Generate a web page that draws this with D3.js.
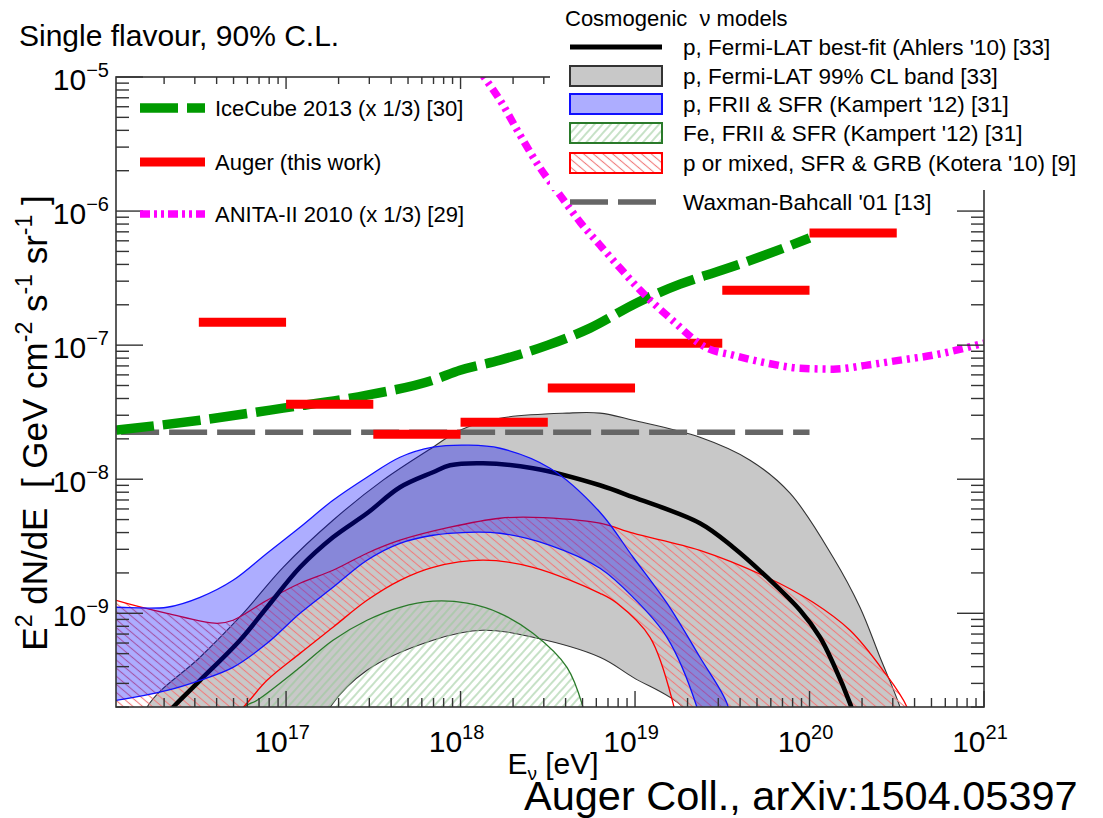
<!DOCTYPE html>
<html>
<head>
<meta charset="utf-8">
<script src="https://cdn.jsdelivr.net/npm/d3@7"></script>
<style>
body { margin: 0; background: #fff; }
text { font-family: "Liberation Sans", Arial, Helvetica, sans-serif; fill: #000; }
</style>
</head>
<body>
<svg width="1103" height="818"></svg>
<script>
// all curves: [log10(E/eV), log10(E^2 dN/dE / GeV cm^-2 s^-1 sr^-1)]

var xTickExp = [17, 18, 19, 20, 21];
var yTickExp = [-9, -8, -7, -6, -5];

// Auger 90% CL limits, half-decade bins
var augerBins = [[16.5, 17.0], [17.0, 17.5], [17.5, 18.0], [18.0, 18.5], [18.5, 19.0], [19.0, 19.5], [19.5, 20.0], [20.0, 20.5]];
var augerLimit = [-6.83, -7.44, -7.664, -7.575, -7.32, -6.985, -6.59, -6.164];

var icecube = [[16.026, -7.634], [16.507, -7.56], [16.983, -7.47], [17.464, -7.373], [17.842, -7.261], [17.997, -7.187],
  [18.226, -7.112], [18.5, -7.0], [18.742, -6.873], [19.006, -6.687], [19.258, -6.545], [19.5, -6.44], [19.745, -6.328], [20.0, -6.201]];

var anita = [[18.08, -4.9], [18.135, -5.0], [18.226, -5.172], [18.341, -5.433], [18.456, -5.679], [18.57, -5.881], [18.685, -6.082],
  [18.799, -6.254], [18.914, -6.425], [19.029, -6.59], [19.201, -6.799], [19.413, -7.022], [19.562, -7.075], [19.756, -7.134],
  [19.946, -7.172], [20.135, -7.179], [20.33, -7.149], [20.519, -7.112], [20.708, -7.075], [21.0, -6.985]];

var waxmanBahcall = [[16.026, -7.649], [20.0, -7.649]];

var fermiBest = [[16.3, -9.78], [16.352, -9.701], [16.507, -9.5], [16.736, -9.201], [16.891, -8.955], [17.08, -8.657], [17.269, -8.433],
  [17.464, -8.254], [17.653, -8.06], [17.842, -7.948], [17.94, -7.896], [18.129, -7.881], [18.415, -7.918], [18.799, -8.045],
  [18.989, -8.134], [19.372, -8.328], [19.562, -8.507], [19.756, -8.731], [19.946, -8.978], [20.06, -9.179], [20.135, -9.373],
  [20.232, -9.672], [20.26, -9.78]];

var fermiHi = [[16.1, -10.2], [16.203, -9.701], [16.507, -9.328], [16.754, -9.0], [16.983, -8.657], [17.269, -8.306], [17.556, -8.007],
  [17.842, -7.761], [17.997, -7.634], [18.226, -7.545], [18.61, -7.507], [18.799, -7.507], [18.989, -7.56], [19.372, -7.687],
  [19.659, -7.858], [19.888, -8.104], [20.135, -8.582], [20.289, -8.955], [20.404, -9.328], [20.519, -9.701], [20.58, -10.0]];
var fermiLo = [[17.15, -10.0], [17.252, -9.701], [17.464, -9.425], [17.842, -9.201], [18.129, -9.127], [18.415, -9.179],
  [18.799, -9.328], [18.989, -9.478], [19.275, -9.701], [19.4, -10.0]];

var kampertPHi = [[15.95, -8.955], [16.026, -8.955], [16.318, -8.955], [16.507, -8.881], [16.696, -8.754], [16.891, -8.552], [17.08, -8.358],
  [17.269, -8.157], [17.464, -7.985], [17.653, -7.836], [17.842, -7.761], [18.037, -7.746], [18.226, -7.769], [18.513, -7.918],
  [18.799, -8.246], [18.989, -8.582], [19.183, -8.925], [19.372, -9.328], [19.527, -9.672], [19.56, -9.9]];
var kampertPLo = [[15.95, -9.66], [16.026, -9.649], [16.318, -9.575], [16.507, -9.5], [16.696, -9.403], [16.891, -9.224], [17.08, -9.0],
  [17.269, -8.806], [17.464, -8.604], [17.653, -8.478], [17.842, -8.418], [18.037, -8.396], [18.226, -8.403], [18.513, -8.493],
  [18.799, -8.664], [18.989, -8.881], [19.183, -9.179], [19.355, -9.701], [19.39, -9.9]];

var kampertFeHi = [[16.68, -9.95], [16.759, -9.701], [16.834, -9.649], [17.08, -9.403], [17.269, -9.201], [17.464, -9.052], [17.653, -8.955],
  [17.842, -8.91], [18.037, -8.925], [18.226, -9.0], [18.415, -9.149], [18.61, -9.403], [18.702, -9.701], [18.74, -9.95]];
var kampertFeLo = [[16.68, -10.5], [18.74, -10.5]];

var koteraHi = [[15.95, -8.87], [16.026, -8.903], [16.318, -9.0], [16.605, -9.075], [16.696, -9.052], [16.891, -8.903], [17.08, -8.776],
  [17.269, -8.679], [17.464, -8.552], [17.653, -8.455], [17.94, -8.358], [18.226, -8.291], [18.415, -8.284], [18.799, -8.328],
  [18.989, -8.403], [19.372, -8.53], [19.756, -8.731], [20.02, -8.918], [20.232, -9.127], [20.421, -9.425], [20.559, -9.701], [20.62, -10.0]];
var koteraLo = [[15.95, -10.4], [16.5, -10.0], [16.754, -9.701], [16.891, -9.5], [17.08, -9.299], [17.269, -9.104], [17.464, -8.903],
  [17.653, -8.754], [17.842, -8.657], [18.129, -8.604], [18.415, -8.657], [18.799, -8.851], [18.897, -8.925], [19.086, -9.179],
  [19.218, -9.672], [19.25, -9.9]];

var svg = d3.select("svg");
var pl = 116, pr = 984, pt = 77, pb = 707;

var x = d3.scaleLog().domain([1.06e16, 1e21]).range([pl, pr]);
var y = d3.scaleLog().domain([2e-10, 1e-5]).range([pb, pt]);

function px(d) { return x(Math.pow(10, d[0])); }
function py(d) { return y(Math.pow(10, d[1])); }

var line = d3.line().x(px).y(py).curve(d3.curveCatmullRom.alpha(0.5));
var straight = d3.line().x(px).y(py);

function bandPath(hi, lo) {
  var a = line(hi), b = line(lo.slice().reverse());
  return a + "L" + b.slice(1) + "Z";
}

var defs = svg.append("defs");
defs.append("clipPath").attr("id", "plotclip")
  .append("rect").attr("x", pl).attr("y", pt).attr("width", pr - pl).attr("height", pb - pt);

function hatch(id, color, angle, gap) {
  var p = defs.append("pattern").attr("id", id)
    .attr("patternUnits", "userSpaceOnUse")
    .attr("width", gap).attr("height", gap)
    .attr("patternTransform", "rotate(" + angle + ")");
  p.append("line").attr("x1", gap / 2).attr("y1", 0).attr("x2", gap / 2).attr("y2", gap)
    .attr("stroke", color).attr("stroke-width", 1.1);
}
hatch("hatchRed", "#f07c7c", -50, 6.2);
hatch("hatchGreen", "#98c998", 42, 6);

var blueFill = "rgba(0,0,255,0.32)";

var g = svg.append("g").attr("clip-path", "url(#plotclip)");

// Fermi-LAT 99% band
g.append("path").attr("d", bandPath(fermiHi, fermiLo))
  .attr("fill", "#c8c8c8").attr("stroke", "#333").attr("stroke-width", 1.1);

// Fe, Kampert
g.append("path").attr("d", bandPath(kampertFeHi, kampertFeLo))
  .attr("fill", "url(#hatchGreen)").attr("stroke", "#2a7a2a").attr("stroke-width", 1.3);

// Kotera
g.append("path").attr("d", bandPath(koteraHi, koteraLo))
  .attr("fill", "url(#hatchRed)").attr("stroke", "#ff0000").attr("stroke-width", 1.3);

// Ahlers best fit
g.append("path").attr("d", line(fermiBest))
  .attr("fill", "none").attr("stroke", "#000").attr("stroke-width", 4.5);

// p, Kampert
g.append("path").attr("d", bandPath(kampertPHi, kampertPLo))
  .attr("fill", blueFill).attr("stroke", "#1010ff").attr("stroke-width", 1.3);

// Waxman-Bahcall
g.append("path").attr("d", straight(waxmanBahcall))
  .attr("fill", "none").attr("stroke", "#666").attr("stroke-width", 5.5)
  .attr("stroke-dasharray", "38,10").attr("stroke-dashoffset", -5);

// IceCube
g.append("path").attr("d", d3.line().x(px).y(py).curve(d3.curveMonotoneX)(icecube))
  .attr("fill", "none").attr("stroke", "#009a00").attr("stroke-width", 9.5)
  .attr("stroke-dasharray", "38,9");

// Auger
g.selectAll(".auger").data(augerLimit).enter().append("line")
  .attr("x1", function(d, i) { return x(Math.pow(10, augerBins[i][0])); })
  .attr("x2", function(d, i) { return x(Math.pow(10, augerBins[i][1])); })
  .attr("y1", function(d) { return y(Math.pow(10, d)); })
  .attr("y2", function(d) { return y(Math.pow(10, d)); })
  .attr("stroke", "#ff0000").attr("stroke-width", 9);

// ANITA
g.append("path").attr("d", d3.line().x(px).y(py).curve(d3.curveMonotoneX)(anita))
  .attr("fill", "none").attr("stroke", "#ff00ff").attr("stroke-width", 7.5)
  .attr("stroke-dasharray", "10,5,3,5,3,5");

// frame and ticks
svg.append("rect").attr("x", pl).attr("y", pt).attr("width", pr - pl).attr("height", pb - pt)
  .attr("fill", "none").attr("stroke", "#333").attr("stroke-width", 1.6);

function isMajor(v) { var l = Math.log10(v); return Math.abs(l - Math.round(l)) < 1e-6; }

var ax = svg.append("g").attr("stroke", "#333").attr("stroke-width", 1.4);
x.ticks().forEach(function(v) {
  var xx = x(v), len = isMajor(v) ? 16 : 9, lenTop = isMajor(v) ? 12 : 7;
  ax.append("line").attr("x1", xx).attr("x2", xx).attr("y1", pb).attr("y2", pb - len);
  ax.append("line").attr("x1", xx).attr("x2", xx).attr("y1", pt).attr("y2", pt + lenTop);
});
y.ticks().forEach(function(v) {
  var yy = y(v), len = isMajor(v) ? 27 : 13;
  ax.append("line").attr("x1", pl).attr("x2", pl + len).attr("y1", yy).attr("y2", yy);
  ax.append("line").attr("x1", pr).attr("x2", pr - len).attr("y1", yy).attr("y2", yy);
});

svg.selectAll(".ylab").data(yTickExp).enter().append("text")
  .attr("x", 109).attr("y", function(d) { return y(Math.pow(10, d)) + 13; })
  .attr("text-anchor", "end").attr("font-size", 30)
  .each(function(d) {
    var t = d3.select(this);
    t.append("tspan").text("10");
    t.append("tspan").attr("dy", -13).attr("font-size", 20).text("\u2212" + (-d));
  });

svg.selectAll(".xlab").data(xTickExp).enter().append("text")
  .attr("x", function(d) { return x(Math.pow(10, d)) - 4; })
  .attr("y", 752)
  .attr("text-anchor", "middle").attr("font-size", 30)
  .each(function(d) {
    var t = d3.select(this);
    t.append("tspan").text("10");
    t.append("tspan").attr("dy", -13).attr("font-size", 20).text(d);
  });

// titles
svg.append("text").attr("x", 19).attr("y", 46).attr("font-size", 30).text("Single flavour, 90% C.L.");

var xt = svg.append("text").attr("x", 553).attr("y", 774).attr("text-anchor", "middle").attr("font-size", 30);
xt.append("tspan").text("E");
xt.append("tspan").attr("dy", 6).attr("font-size", 19).text("\u03bd");
xt.append("tspan").attr("dy", -6).text(" [eV]");

var yt = svg.append("text").attr("transform", "translate(47,423) rotate(-90)")
  .attr("text-anchor", "middle").attr("font-size", 35).style("white-space", "pre");
yt.append("tspan").text("E");
yt.append("tspan").attr("dy", -15).attr("font-size", 23).text("2");
yt.append("tspan").attr("dy", 15).text(" dN/dE  [ GeV cm");
yt.append("tspan").attr("dy", -15).attr("font-size", 23).text("-2");
yt.append("tspan").attr("dy", 15).text(" s");
yt.append("tspan").attr("dy", -15).attr("font-size", 23).text("-1");
yt.append("tspan").attr("dy", 15).text(" sr");
yt.append("tspan").attr("dy", -15).attr("font-size", 23).text("-1");
yt.append("tspan").attr("dy", 15).text(" ]");

svg.append("text").attr("x", 524).attr("y", 810).attr("font-size", 41.5).text("Auger Coll., arXiv:1504.05397");

// left legend
var legL = svg.append("g");
var legLRows = [108, 162, 214];
legL.append("line").attr("x1", 140).attr("x2", 205).attr("y1", legLRows[0]).attr("y2", legLRows[0])
  .attr("stroke", "#009a00").attr("stroke-width", 9.5).attr("stroke-dasharray", "38,9");
legL.append("line").attr("x1", 140).attr("x2", 205).attr("y1", legLRows[1]).attr("y2", legLRows[1])
  .attr("stroke", "#ff0000").attr("stroke-width", 9);
legL.append("line").attr("x1", 140).attr("x2", 205).attr("y1", legLRows[2]).attr("y2", legLRows[2])
  .attr("stroke", "#ff00ff").attr("stroke-width", 7.5).attr("stroke-dasharray", "10,4,3,4,3,4");
["IceCube 2013 (x 1/3) [30]", "Auger (this work)", "ANITA-II 2010 (x 1/3) [29]"].forEach(function(s, i) {
  legL.append("text").attr("x", 215).attr("y", legLRows[i] + 8).attr("font-size", 22).text(s);
});

// right legend, white box over the frame
var legR = svg.append("g");
legR.append("rect").attr("x", 550).attr("y", 0).attr("width", 553).attr("height", 190).attr("fill", "#fff");
var legRRows = [47, 76, 104, 133, 163, 202];
legR.append("text").attr("x", 565).attr("y", 26).attr("font-size", 22).style("white-space", "pre")
  .text("Cosmogenic  \u03bd models");
legR.append("line").attr("x1", 570).attr("x2", 662).attr("y1", legRRows[0]).attr("y2", legRRows[0])
  .attr("stroke", "#000").attr("stroke-width", 5);
var boxes = [
  { fill: "#c8c8c8", stroke: "#333" },
  { fill: blueFill, stroke: "#1010ff" },
  { fill: "url(#hatchGreen)", stroke: "#2a7a2a" },
  { fill: "url(#hatchRed)", stroke: "#ff0000" }
];
boxes.forEach(function(b, i) {
  legR.append("rect").attr("x", 570).attr("y", legRRows[i + 1] - 10).attr("width", 92).attr("height", 20)
    .attr("fill", b.fill).attr("stroke", b.stroke).attr("stroke-width", 2);
});
legR.append("line").attr("x1", 570).attr("x2", 662).attr("y1", legRRows[5]).attr("y2", legRRows[5])
  .attr("stroke", "#666").attr("stroke-width", 5.5).attr("stroke-dasharray", "38,10");
["p, Fermi-LAT best-fit (Ahlers '10) [33]", "p, Fermi-LAT 99% CL band [33]", "p, FRII & SFR (Kampert '12) [31]",
 "Fe, FRII & SFR (Kampert '12) [31]", "p or mixed, SFR & GRB (Kotera '10) [9]", "Waxman-Bahcall '01 [13]"].forEach(function(s, i) {
  legR.append("text").attr("x", 683).attr("y", legRRows[i] + 8).attr("font-size", 22.5).text(s);
});
</script>
</body>
</html>
